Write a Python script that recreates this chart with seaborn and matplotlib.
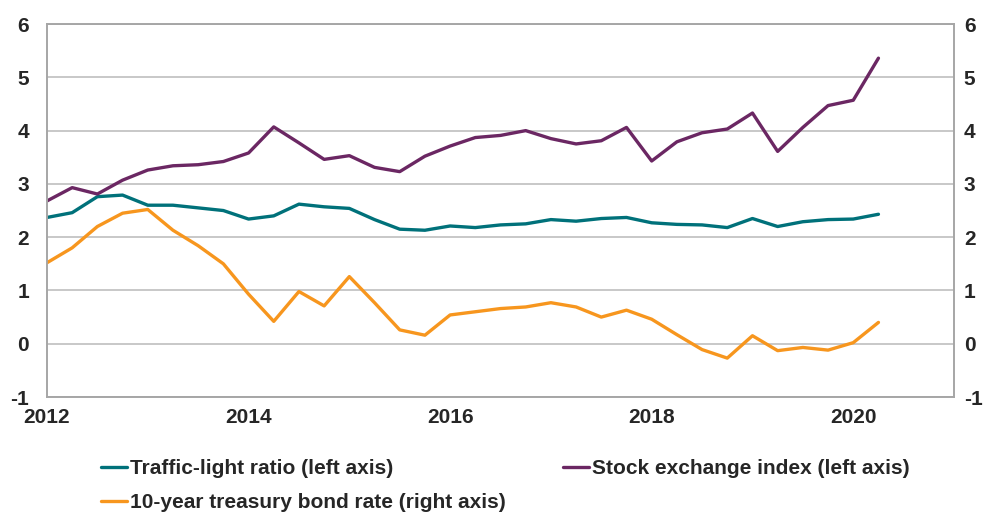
import pandas as pd
import numpy as np
import matplotlib
matplotlib.use("Agg")
import matplotlib.pyplot as plt
import seaborn as sns

# Quarterly observations, 2012Q1 - 2020Q2
quarters = pd.date_range("2012-01-01", periods=34, freq="QS")

traffic_light = [2.37, 2.46, 2.76, 2.79, 2.60, 2.60, 2.55, 2.50, 2.34, 2.40,
                 2.62, 2.57, 2.54, 2.33, 2.15, 2.13, 2.21, 2.18, 2.23, 2.25,
                 2.33, 2.30, 2.35, 2.37, 2.27, 2.24, 2.23, 2.18, 2.35, 2.20,
                 2.29, 2.33, 2.34, 2.43]

stock_index = [2.68, 2.93, 2.81, 3.07, 3.26, 3.34, 3.36, 3.42, 3.58, 4.07,
               3.77, 3.46, 3.53, 3.31, 3.23, 3.52, 3.71, 3.87, 3.91, 4.00,
               3.85, 3.75, 3.81, 4.06, 3.43, 3.79, 3.96, 4.03, 4.33, 3.61,
               4.06, 4.47, 4.57, 5.36]

bond_rate = [1.52, 1.80, 2.20, 2.45, 2.52, 2.13, 1.84, 1.50, 0.93, 0.42,
             0.98, 0.71, 1.26, 0.77, 0.26, 0.16, 0.54, 0.60, 0.66, 0.69,
             0.77, 0.69, 0.50, 0.63, 0.46, 0.17, -0.11, -0.27, 0.15, -0.13,
             -0.07, -0.12, 0.02, 0.40]

labels = ["Traffic-light ratio (left axis)",
          "Stock exchange index (left axis)",
          "10-year treasury bond rate (right axis)"]
colors = ["#00717A", "#6B2763", "#F7961E"]

df = pd.DataFrame({
    "year": quarters.year + (quarters.month - 1) / 12,
    "traffic": traffic_light,
    "stock": stock_index,
    "bond": bond_rate,
})

sns.set_style("white")
plt.rcParams["font.family"] = ["Liberation Sans", "DejaVu Sans"]
plt.rcParams["font.weight"] = "bold"
plt.rcParams["axes.unicode_minus"] = False

fig = plt.figure(figsize=(9.87, 5.12), dpi=100)
ax = fig.add_axes([0.0476, 0.2246, 0.919, 0.7284])
ax2 = ax.twinx()

sns.lineplot(data=df, x="year", y="traffic", ax=ax, color=colors[0], lw=2.4, label=labels[0], legend=False)
sns.lineplot(data=df, x="year", y="stock", ax=ax, color=colors[1], lw=2.4, label=labels[1], legend=False)
sns.lineplot(data=df, x="year", y="bond", ax=ax2, color=colors[2], lw=2.4, label=labels[2], legend=False)

for a in (ax, ax2):
    a.set_ylim(-1, 6)
    a.set_yticks(range(-1, 7))
    a.set_xlim(2012, 2021)
    a.set_xlabel("")
    a.set_ylabel("")
    for s in a.spines.values():
        s.set_color("#A6A6A6")
        s.set_linewidth(1.2)
ax.tick_params(axis="y", length=0, labelsize=15, pad=13)
ax2.tick_params(axis="y", length=0, labelsize=15, pad=7)

ax.set_xticks([2012, 2014, 2016, 2018, 2020])
ax.set_xticklabels(["2012", "2014", "2016", "2018", "2020"])
ax.tick_params(axis="x", length=5, width=1.2, color="#A6A6A6", labelsize=15, pad=3)
ax.grid(axis="y", color="#BFBFBF", lw=1.2)
ax.set_axisbelow(True)
ax2.set_zorder(ax.get_zorder() + 1)
ax2.patch.set_visible(False)

for t in ax.get_xticklabels() + ax.get_yticklabels() + ax2.get_yticklabels():
    t.set_fontweight("bold")

# legend order so that rows read: traffic | stock, then bond
h1, l1 = ax.get_legend_handles_labels()
h2, l2 = ax2.get_legend_handles_labels()
handles = [h1[0], h2[0], h1[1]]
leg_labels = [l1[0], l2[0], l1[1]]
fig.legend(handles, leg_labels, loc="upper left", bbox_to_anchor=(0.1023, 0.103),
           ncol=2, frameon=False, handlelength=1.25, handletextpad=0.15,
           columnspacing=2.75, labelspacing=0.72, borderpad=0, borderaxespad=0,
           prop={"size": 15, "weight": "bold"}, bbox_transform=fig.transFigure)

fig.savefig("out.png", dpi=100)
